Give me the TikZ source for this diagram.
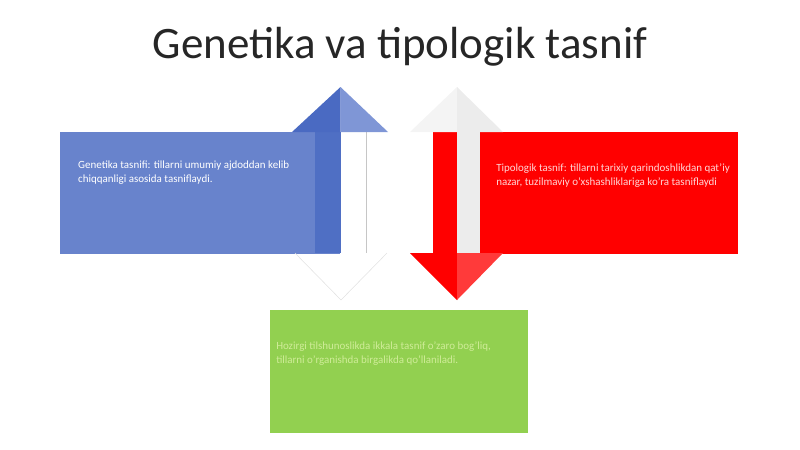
\documentclass[tikz,border=0pt]{standalone}
\usepackage{fontspec}
\setmainfont{Carlito}
\usepackage{tikz}
\usetikzlibrary{positioning}

\definecolor{boxblue}{HTML}{6883CC}
\definecolor{shaftblue}{HTML}{4F6FC4}
\definecolor{headblue}{HTML}{4A6AC2}
\definecolor{headbluelight}{HTML}{7F96D6}
\definecolor{boxred}{HTML}{FF0000}
\definecolor{headredlight}{HTML}{FF3A3A}
\definecolor{ghost}{HTML}{ECECEC}
\definecolor{ghostdark}{HTML}{E2E2E2}
\definecolor{boxgreen}{HTML}{92D050}
\definecolor{greentext}{HTML}{CFEC98}
\definecolor{redtext}{HTML}{FFD6D6}
\definecolor{titlegray}{HTML}{262626}

\begin{document}
\begin{tikzpicture}[x=0.025cm,y=-0.025cm,
    panel/.style={minimum width=#1, minimum height=3.05cm, inner sep=0pt, outer sep=0pt},
    bodytext/.style={font=\fontsize{7.8}{10}\selectfont, align=left, anchor=north west, inner sep=0pt}]

\useasboundingbox (0,0) rectangle (800,449);

\node[font=\fontsize{32}{36}\selectfont,
    text=titlegray
] (title) at (400,47) {Genetika va tipologik tasnif};

% boxes
\node[panel=7cm, fill=boxblue] (genetic) at (200,193) {};
\node[panel=6.45cm, fill=boxred] (typology) at (609,193) {};
\node[panel=6.45cm, fill=boxgreen] (modern) at (399,371.5) {};

% blue arrow going up
\fill[shaftblue] (315,132) rectangle (340.5,253);
\fill[white] (340.5,132) rectangle (366,253);
\draw[gray!45, thin] (366,132) -- (366,253);
\fill[headblue] (292,132) -- (340.5,87) -- (340.5,132) -- cycle;
\fill[headbluelight] (340.5,132) -- (340.5,87) -- (388,132) -- cycle;
\draw[ghostdark, line width=0.4pt] (295,253) -- (341,300) -- (387,253);

% red arrow going down
\fill[boxred] (433,132) rectangle (457,253);
\fill[ghost] (457,132) rectangle (480,253);
\fill[ghost!60] (410,132) -- (457,87) -- (457,132) -- cycle;
\fill[ghost] (457,132) -- (457,87) -- (503,132) -- cycle;
\fill[boxred] (410,253) -- (457,300) -- (457,253) -- cycle;
\fill[headredlight] (457,253) -- (457,300) -- (503,253) -- cycle;

% texts
\node[bodytext, text=white] (genetictext) at ([shift={(18,29)}]genetic.north west)
    {Genetika tasnifi: tillarni umumiy ajdoddan kelib\\chiqqanligi asosida tasniflaydi.};
\node[bodytext, text=redtext] (typologytext) at ([shift={(16,31)}]typology.north west)
    {Tipologik tasnif: tillarni tarixiy qarindoshlikdan qat'iy\\nazar, tuzilmaviy o'xshashliklariga ko'ra tasniflaydi};
\node[bodytext, text=greentext] (moderntext) at ([shift={(6,31)}]modern.north west)
    {Hozirgi tilshunoslikda ikkala tasnif o'zaro bog'liq,\\tillarni o'rganishda birgalikda qo'llaniladi.};

\end{tikzpicture}
\end{document}
